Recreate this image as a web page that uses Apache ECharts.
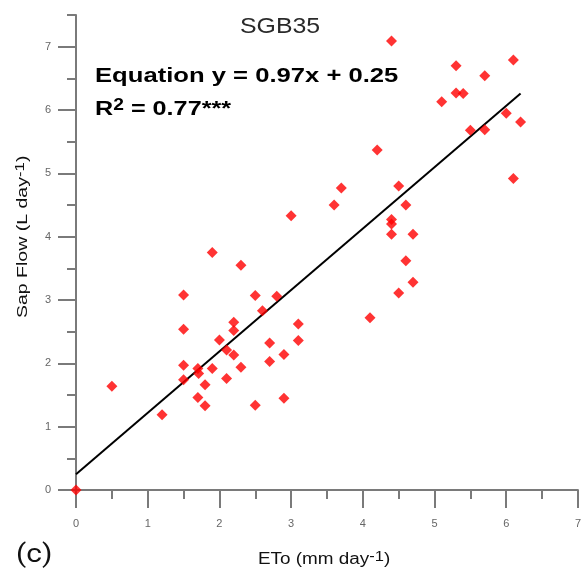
<!DOCTYPE html>
<html><head><meta charset="utf-8">
<script src="https://cdn.jsdelivr.net/npm/echarts@6/dist/echarts.min.js"></script>
<style>html,body{margin:0;padding:0;background:#fff}#c{width:584px;height:573px}</style>
</head><body><div id="c"></div>
<script>
// ---- data ----
const etoValues = [0, 0.5, 1.2, 1.5, 1.5, 1.7, 1.71, 1.8, 1.7, 1.8, 1.9, 2.1, 2.3, 2.5, 2.7, 2.9,
  1.5, 1.9, 2.3, 3.0, 1.5, 2.5, 2.8, 2.6, 2.2, 2.2, 2.0, 2.1, 2.2, 2.7, 2.9, 3.1, 3.1,
  3.7, 3.6, 4.5, 4.6, 4.4, 4.4, 4.4, 4.7, 4.6, 4.7, 4.5, 4.1,
  4.4, 5.3, 6.1, 5.7, 5.1, 5.3, 5.4, 6.0, 6.2, 5.5, 5.7, 4.2, 6.1];
const sapFlowValues = [0, 1.64, 1.19, 1.97, 1.74, 1.92, 1.84, 1.66, 1.46, 1.33, 1.92, 1.76, 1.94, 1.34, 2.03, 1.45,
  3.08, 3.75, 3.55, 4.33, 2.54, 3.07, 3.06, 2.83, 2.65, 2.52, 2.37, 2.21, 2.13, 2.32, 2.14, 2.62, 2.36,
  4.77, 4.50, 4.80, 4.50, 4.27, 4.20, 4.04, 4.04, 3.62, 3.28, 3.11, 2.72,
  7.09, 6.70, 6.79, 6.54, 6.13, 6.27, 6.26, 5.95, 5.81, 5.68, 5.69, 5.37, 4.92];
const fitLineX = [0, 6.2];
const fitLineY = [0.25, 6.26];
const xTickLabels = ['0', '1', '2', '3', '4', '5', '6', '7'];
const yTickLabels = ['0', '1', '2', '3', '4', '5', '6', '7'];
const xMinorTicks = [0.5, 1.5, 2.5, 3.5, 4.5, 5.5, 6.5];
const yMinorTicks = [0.5, 1.5, 2.5, 3.5, 4.5, 5.5, 6.5, 7.5];
const titleText = 'SGB35';
const equationText = 'Equation y = 0.97x + 0.25';
const r2Value = '0.77***';
const yAxisTitle = 'Sap Flow (L day';
const xAxisTitle = 'ETo (mm day';
const unitExponent = '-1';
const panelLabel = '(c)';

const chart = echarts.init(document.getElementById('c'), null, {renderer: 'canvas'});
const points = etoValues.map((x, i) => [x, sapFlowValues[i]]);
const fitPts = fitLineX.map((x, i) => [x, fitLineY[i]]);
const majorX = xTickLabels.map(Number);
const majorY = yTickLabels.map(Number);
const axisCol = '#7a7a7a';
const labelStyle = {color: '#666', fontSize: 11, fontFamily: 'Liberation Sans'};

function xAxisDef(ticks, len, showLabel, showLine) {
  return {
    type: 'value', min: 0, max: 7, position: 'bottom',
    axisLine: {show: showLine, onZero: false, lineStyle: {color: axisCol, width: 2}},
    axisTick: {show: true, inside: false, length: len, customValues: ticks, lineStyle: {color: axisCol, width: 2}},
    axisLabel: Object.assign({show: showLabel, margin: 28, customValues: majorX}, labelStyle),
    splitLine: {show: false}
  };
}
function yAxisDef(ticks, len, showLabel, showLine) {
  return {
    type: 'value', min: 0, max: 7.5, position: 'left',
    axisLine: {show: showLine, onZero: false, lineStyle: {color: axisCol, width: 2}},
    axisTick: {show: true, inside: false, length: len, customValues: ticks, lineStyle: {color: axisCol, width: 2}},
    axisLabel: Object.assign({show: showLabel, margin: 25, customValues: majorY}, labelStyle),
    splitLine: {show: false}
  };
}

const txt = (x, y, sx, style, extra) => Object.assign({type: 'text', x: x, y: y, scaleX: sx,
  style: Object.assign({x: 0, y: 0, align: 'left', verticalAlign: 'middle'}, style)}, extra || {});

chart.setOption({
  animation: false,
  backgroundColor: '#fff',
  grid: {left: 76, right: 3, top: 15, bottom: 83, containLabel: false},
  xAxis: [xAxisDef(majorX, 18, true, true), xAxisDef(xMinorTicks, 9, false, false)],
  yAxis: [yAxisDef(majorY, 18, true, true), yAxisDef(yMinorTicks, 9, false, false)],
  series: [
    {type: 'line', data: fitPts, xAxisIndex: 0, yAxisIndex: 0, symbol: 'none',
     lineStyle: {color: '#000', width: 2}, z: 2},
    {type: 'scatter', data: points, xAxisIndex: 0, yAxisIndex: 0, symbol: 'diamond', symbolSize: 11,
     itemStyle: {color: '#ff0000'}, z: 3}
  ],
  graphic: [
    txt(240, 27, 1.13, {text: titleText, fill: '#2a2a2a', font: '22px "Liberation Sans"'}),
    txt(95, 76, 1.22, {text: equationText, fill: '#000', font: 'bold 21px "Liberation Sans"'}),
    txt(95, 109, 1.2, {
      text: '{b|R}{s|2}{b| = ' + r2Value + '}',
      rich: {
        b: {font: 'bold 21px "Liberation Sans"', fill: '#000'},
        s: {font: 'bold 16px "Liberation Sans"', fill: '#000', verticalAlign: 'top', padding: [0, 0, 6, 0]}
      }}),
    txt(23, 318, 1.3, {
      text: '{n|' + yAxisTitle + '}{s|' + unitExponent + '}{n|)}',
      rich: {n: {font: '15px "Liberation Sans"', fill: '#111'},
             s: {font: '13px "Liberation Sans"', fill: '#111', verticalAlign: 'top', padding: [0, 0, 5, 0]}}
    }, {rotation: Math.PI / 2}),
    txt(258, 560, 1.18, {
      text: '{n|' + xAxisTitle + '}{s|' + unitExponent + '}{n|)}',
      rich: {n: {font: '16px "Liberation Sans"', fill: '#111'},
             s: {font: '14px "Liberation Sans"', fill: '#111', verticalAlign: 'top', padding: [0, 0, 6, 0]}}
    }),
    txt(16, 555, 1.15, {text: panelLabel, fill: '#111', font: '26px Roboto'})
  ]
});
</script></body></html>
